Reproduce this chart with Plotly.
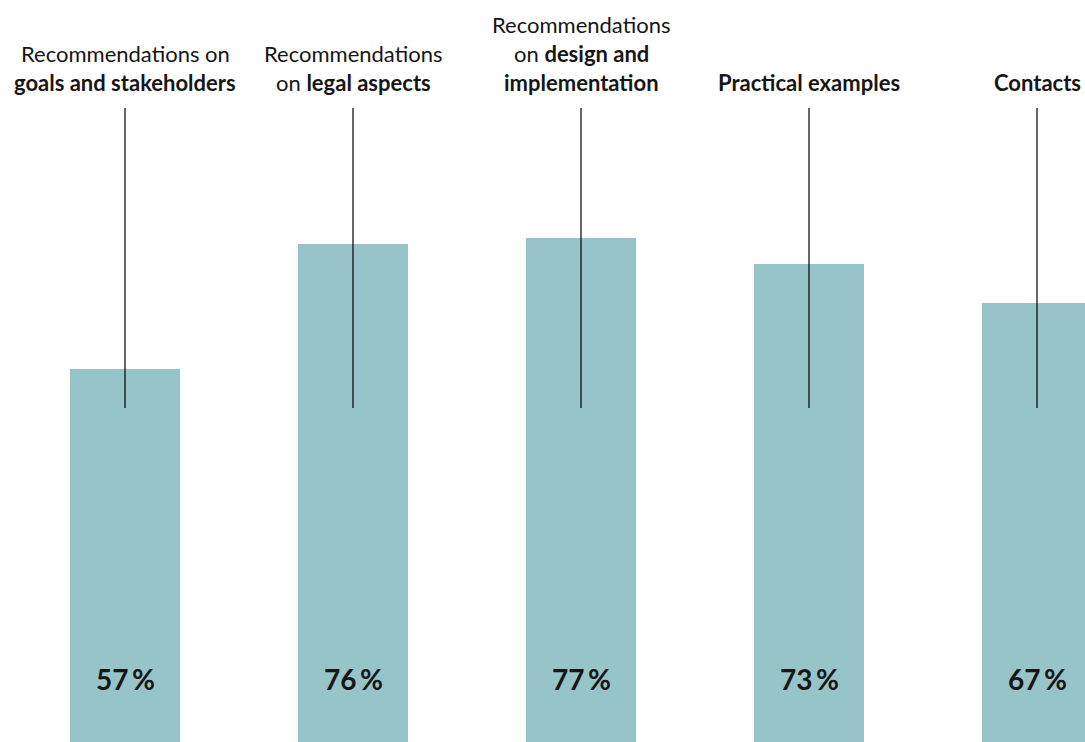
import plotly.graph_objects as go

# ---- data ----
categories = ["Goals and stakeholders", "Legal aspects", "Design and implementation",
              "Practical examples", "Contacts"]
values = [57, 76, 77, 73, 67]
label_lines = [
    ["Recommendations on", "<b>goals and stakeholders</b>"],
    ["Recommendations", "on <b>legal aspects</b>"],
    ["Recommendations", "on <b>design and</b>", "<b>implementation</b>"],
    ["<b>Practical examples</b>"],
    ["<b>Contacts</b>"],
]

# ---- style ----
W, H = 1085, 742
BAR_COLOR = "#97C4C8"
TEXT_COLOR = "#161616"
FONT = "Lato"
PX_PER_UNIT = 6.55          # vertical pixels per percent
STEP = 228                  # px between bar centers
FIRST_CENTER = 125          # px of first bar center
BAR_PX = 110
LABEL_SIZE = 22
PCT_SIZE = 28
ROW_BOTTOM_PX = 82          # centre of bottom text row (px from top)
ROW_GAP = 28.8
LINE_TOP_PX = 108
LINE_BOT_PX = 408
PCT_CENTER_PX = 679

x_idx = list(range(len(categories)))

fig = go.Figure()
fig.add_trace(go.Bar(
    x=x_idx, y=values, width=BAR_PX / STEP,
    marker=dict(color=BAR_COLOR, line=dict(width=0)),
    hoverinfo="skip", showlegend=False,
))

shapes = []
annotations = []
for i, (lines, v) in enumerate(zip(label_lines, values)):
    shapes.append(dict(type="line", xref="x", yref="paper", x0=i, x1=i,
                       y0=1 - LINE_TOP_PX / H, y1=1 - LINE_BOT_PX / H,
                       line=dict(color="#000000", width=1.2), layer="above"))
    n = len(lines)
    for k, txt in enumerate(lines):
        ypx = ROW_BOTTOM_PX - (n - 1 - k) * ROW_GAP
        annotations.append(dict(x=i, xref="x", y=1 - ypx / H, yref="paper",
                                text=txt, showarrow=False, xanchor="center",
                                yanchor="middle",
                                font=dict(family=FONT, size=LABEL_SIZE, color=TEXT_COLOR)))
    annotations.append(dict(x=i, xref="x", y=1 - PCT_CENTER_PX / H, yref="paper",
                            text=f"<b>{v}\u2009%</b>", showarrow=False,
                            xanchor="center", yanchor="middle",
                            font=dict(family=FONT, size=PCT_SIZE, color=TEXT_COLOR)))

fig.update_layout(
    width=W, height=H, autosize=False,
    margin=dict(l=0, r=0, t=0, b=0, pad=0),
    paper_bgcolor="white", plot_bgcolor="white",
    xaxis=dict(range=[-FIRST_CENTER / STEP, (W - FIRST_CENTER) / STEP],
               visible=False, fixedrange=True),
    yaxis=dict(range=[0, H / PX_PER_UNIT], visible=False, fixedrange=True),
    shapes=shapes, annotations=annotations,
    bargap=0,
)

fig.write_html("out.html", config={"displayModeBar": False})
